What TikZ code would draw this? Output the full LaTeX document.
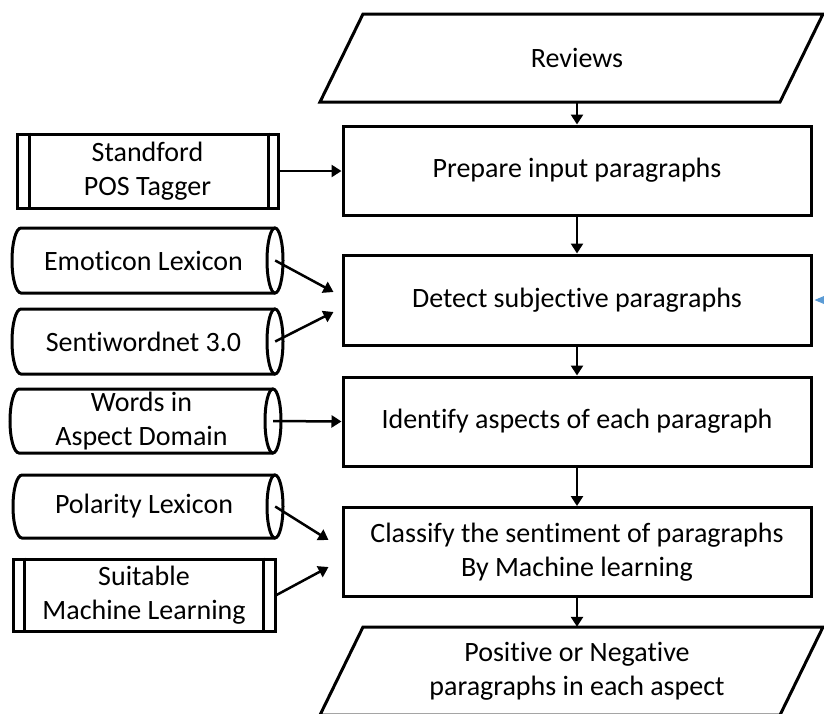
\documentclass[tikz,border=0pt]{standalone}
\usepackage{fontspec}
\setmainfont{Carlito}[Ligatures={NoCommon}]
\usetikzlibrary{arrows.meta,calc}

\newcommand\mainfnt{\fontsize{28}{34}\selectfont}
\definecolor{linkblue}{HTML}{5B9BD5}

\tikzset{
  outl/.style={line width=3pt, line join=miter},
  txt/.style={inner sep=0pt, align=center, font=\mainfnt},
  mainbox/.style={txt, draw, outl, minimum width=468pt},
  procbox/.style={txt, draw, outl},
  flow/.style={line width=2.5pt, -{Triangle[length=10pt,width=12pt]}},
  sideflow/.style={line width=1pt, draw=linkblue, -{Triangle[length=11pt,width=9pt]}},
}

% horizontal data store: left end, axis end (centre of the visible face), top, bottom
\newcommand\storedraw[4]{%
  \pgfmathsetmacro\hr{(#4-#3)/2}%
  \pgfmathsetmacro\ym{(#3+#4)/2}%
  \draw[outl] (#2,#3) -- (#1+9,#3)
     arc[start angle=90,end angle=270,x radius=9pt,y radius=\hr pt] -- (#2,#4);
  \draw[outl] (#2,\ym) ellipse[x radius=8pt,y radius=\hr pt];
}

\begin{document}
\begin{tikzpicture}[x=1pt,y=-1pt]
\useasboundingbox (0,0) rectangle (824,713);

% input and output (parallelograms)
\draw[outl] (363,14) -- (823,14) -- (780,102) -- (320,102) -- cycle;
\node[txt, minimum height=88pt] (rev) at (577,58) {Reviews};
\draw[outl] (363,627) -- (823,627) -- (780,715) -- (320,715) -- cycle;
\node[txt, minimum height=88pt] (res) at (577,671) {Positive or Negative\\paragraphs in each aspect};

% processing steps
\node[mainbox, minimum height=89pt] (prep)  at (577,170.5) {Prepare input paragraphs};
\node[mainbox, minimum height=90pt] (det)   at (577,300)   {Detect subjective paragraphs};
\node[mainbox, minimum height=89pt] (ident) at (577,421.5) {Identify aspects of each paragraph};
\node[mainbox, minimum height=89pt] (cls)   at (577,552)   {Classify the sentiment of paragraphs\\By Machine learning};

\draw[flow] (rev.south) -- (prep.north);
\draw[flow] (prep.south) -- (det.north);
\draw[flow] (det.south) -- (ident.north);
\draw[flow] (ident.south) -- (cls.north);
\draw[flow] (cls.south) -- (res.north);

% predefined processes
\node[procbox, minimum width=261pt, minimum height=74pt] (pos) at (147.5,171) {Standford\\POS Tagger};
\draw[outl] ([xshift=14pt]pos.north west) -- ([xshift=14pt]pos.south west);
\draw[outl] ([xshift=-11pt]pos.north east) -- ([xshift=-11pt]pos.south east);

\node[procbox, minimum width=262pt, minimum height=72pt] (sml) at (144,595) {Suitable\\Machine Learning};
\draw[outl] ([xshift=13pt]sml.north west) -- ([xshift=13pt]sml.south west);
\draw[outl] ([xshift=-13pt]sml.north east) -- ([xshift=-13pt]sml.south east);

% lexicons
\storedraw{12}{275}{228}{293}
\node[txt, minimum width=263pt, minimum height=65pt] (emo) at (143.5,260.5) {Emoticon Lexicon};
\storedraw{12}{275}{309}{374}
\node[txt, minimum width=263pt, minimum height=65pt] (swn) at (143.5,341.5) {Sentiwordnet 3.0};
\storedraw{10}{273}{389}{453}
\node[txt, minimum width=263pt, minimum height=64pt] (wad) at (141.5,421) {Words in\\Aspect Domain};
\storedraw{13}{275}{475}{538}
\node[txt, minimum width=262pt, minimum height=63pt] (pol) at (144,506.5) {Polarity Lexicon};

% arrow targets
\coordinate (d1) at ([shift={(-8pt,8pt)}]det.west);
\coordinate (d2) at ([shift={(-8pt,-12pt)}]det.west);
\coordinate (c1) at ([shift={(-13pt,12pt)}]cls.west);
\coordinate (c2) at ([shift={(-13pt,-15pt)}]cls.west);
\coordinate (feed) at (870,300);

\draw[flow] (pos.east) -- (pos.east -| prep.west);
\draw[flow] (emo.east) -- (d1);
\draw[flow] (swn.east) -- (d2);
\draw[flow] (wad.east) -- (ident.west);
\draw[flow] (pol.east) -- (c1);
\draw[flow] (sml.east) -- (c2);
\draw[sideflow] (feed) -- ([xshift=2pt]det.east);
\end{tikzpicture}
\end{document}
